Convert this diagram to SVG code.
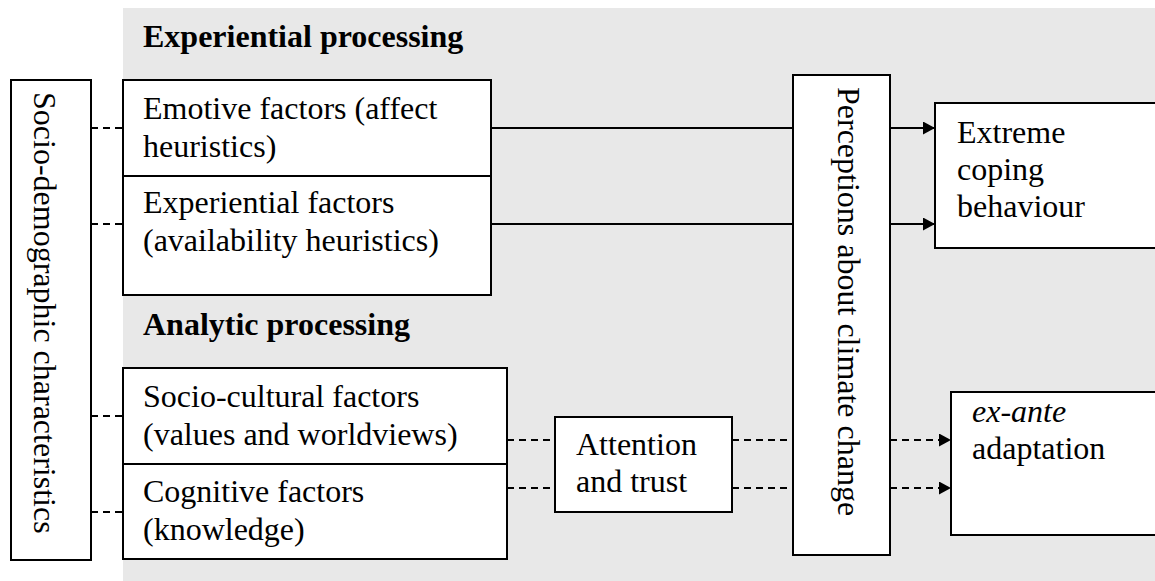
<svg xmlns="http://www.w3.org/2000/svg" width="1155" height="581" viewBox="0 0 1155 581">
<style>
text{font-family:"Liberation Serif","Times New Roman",serif;font-size:32px;fill:#000}
.b{font-weight:bold}
.box{fill:#fff;stroke:#000;stroke-width:2}
.c{stroke:#000;stroke-width:2;fill:none}
.d{stroke:#000;stroke-width:2;fill:none;stroke-dasharray:7 5}
</style>
<defs>
<marker id="ah" markerUnits="userSpaceOnUse" markerWidth="13" markerHeight="14" refX="12" refY="6.5" orient="auto">
<path d="M0,0 L12,6.5 L0,13 z" fill="#000"/>
</marker>
</defs>
<rect x="123" y="8" width="1040" height="580" fill="#e8e8e8"/>
<g id="title-experiential"><text class="b" x="143" y="47">Experiential processing</text></g>
<g id="title-analytic"><text class="b" x="143" y="335">Analytic processing</text></g>
<g id="connectors">
<line class="d" x1="91" y1="128" x2="123" y2="128"/>
<line class="d" x1="91" y1="224" x2="123" y2="224"/>
<line class="d" x1="91" y1="416" x2="123" y2="416"/>
<line class="d" x1="91" y1="512" x2="123" y2="512"/>
<line class="c" x1="491" y1="128" x2="793" y2="128"/>
<line class="c" x1="491" y1="224" x2="793" y2="224"/>
<line class="c" x1="890" y1="128" x2="935" y2="128" marker-end="url(#ah)"/>
<line class="c" x1="890" y1="224" x2="935" y2="224" marker-end="url(#ah)"/>
<line class="d" x1="507" y1="440" x2="555" y2="440"/>
<line class="d" x1="507" y1="488" x2="555" y2="488"/>
<line class="d" x1="732" y1="440" x2="793" y2="440"/>
<line class="d" x1="732" y1="488" x2="793" y2="488"/>
<line class="d" x1="890" y1="440" x2="951" y2="440" marker-end="url(#ah)"/>
<line class="d" x1="890" y1="488" x2="951" y2="488" marker-end="url(#ah)"/>
</g>
<g id="socio-demographic">
<rect class="box" x="11" y="80" width="80" height="480"/>
<text transform="translate(34,92) rotate(90)">Socio-demographic characteristics</text>
</g>
<g id="emotive">
<rect class="box" x="123" y="80" width="368" height="96"/>
<text x="143" y="119">Emotive factors (affect</text>
<text x="143" y="157">heuristics)</text>
</g>
<g id="experiential">
<rect class="box" x="123" y="176" width="368" height="119"/>
<text x="143" y="213">Experiential factors</text>
<text x="143" y="251">(availability heuristics)</text>
</g>
<g id="socio-cultural">
<rect class="box" x="123" y="368" width="384" height="96"/>
<text x="143" y="407">Socio-cultural factors</text>
<text x="143" y="445">(values and worldviews)</text>
</g>
<g id="cognitive">
<rect class="box" x="123" y="464" width="384" height="95"/>
<text x="143" y="502">Cognitive factors</text>
<text x="143" y="540">(knowledge)</text>
</g>
<g id="attention">
<rect class="box" x="555" y="417" width="177" height="95"/>
<text x="576" y="455">Attention</text>
<text x="576" y="492">and trust</text>
</g>
<g id="perceptions">
<rect class="box" x="793" y="75" width="97" height="480"/>
<text transform="translate(838,87) rotate(90)">Perceptions about climate change</text>
</g>
<g id="extreme">
<rect class="box" x="935" y="103" width="240" height="145"/>
<text x="957" y="143">Extreme</text>
<text x="957" y="180">coping</text>
<text x="957" y="217">behaviour</text>
</g>
<g id="ex-ante">
<rect class="box" x="951" y="392" width="224" height="143"/>
<text x="972" y="422" font-style="italic">ex-ante</text>
<text x="972" y="459">adaptation</text>
</g>
</svg>
